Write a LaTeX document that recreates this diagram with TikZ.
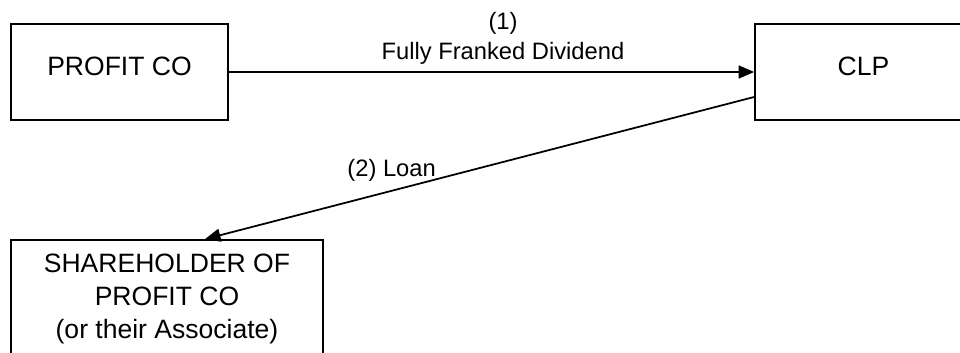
\documentclass[tikz,border=0pt]{standalone}
\usepackage{fontspec}
\setmainfont{Liberation Sans}
\usetikzlibrary{arrows.meta,positioning}

\begin{document}
\begin{tikzpicture}[
    entity/.style={draw, line width=1pt, inner sep=0pt, minimum width=4.34cm, minimum height=1.92cm, align=center, font=\fontsize{15.1}{18.8}\selectfont, text depth=0.22cm},
    flow/.style={-{Triangle[length=3.1mm, width=2.6mm]}, line width=1pt},
    flowlabel/.style={inner sep=0pt, align=center, font=\fontsize{13.5}{17}\selectfont},
]
    \clip (0,0) rectangle (19.2,7.04);

    \node[entity] (profitco) at (2.39,5.6) {PROFIT CO};
    \node[entity] (clp) at (17.27,5.6) {CLP};
    \node[entity, minimum width=6.24cm, minimum height=2.36cm, text depth=] (holder) at (3.34,1.06) {SHAREHOLDER OF\\PROFIT CO\\(or their Associate)};

    \draw[flow] (profitco) -- node[flowlabel, anchor=south, xshift=0.23cm, yshift=0.14cm] {(1)\\Fully Franked Dividend} (clp);
    \draw[flow] ([yshift=-0.5cm]clp.west) -- node[flowlabel, pos=0.578, anchor=base east, yshift=0.06cm] {(2) Loan} ([xshift=0.76cm]holder.north);
\end{tikzpicture}
\end{document}
